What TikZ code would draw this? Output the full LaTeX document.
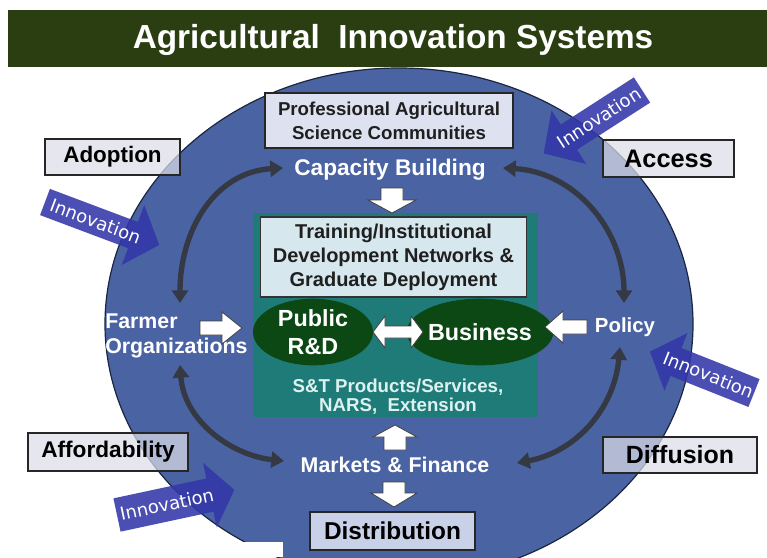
\documentclass[tikz,border=0pt]{standalone}
\usepackage{fontspec}
\setmainfont{Liberation Sans}
\newfontfamily\innovfont{DejaVu Sans}
\usetikzlibrary{arrows.meta,shapes.geometric}
\definecolor{titlebg}{HTML}{2B3E11}
\definecolor{ellblue}{HTML}{4A63A3}
\definecolor{ellline}{HTML}{1B2540}
\definecolor{tealbox}{HTML}{1F7B78}
\definecolor{rdgreen}{HTML}{0B4814}
\definecolor{innovblue}{HTML}{3336A8}
\definecolor{arcgray}{HTML}{343944}
\definecolor{lblfill}{HTML}{DCDDE8}
\definecolor{profill}{HTML}{DEE2F0}
\definecolor{trainfill}{HTML}{D6E7EE}
\definecolor{distfill}{HTML}{C9D1E8}
\definecolor{sttext}{HTML}{DDF2F0}
\newcommand{\blockarr}[8]{%
  \begin{scope}[shift={(#1,#2)},rotate=#3]
    \path[#8] (0,-#5) -- ({#4-#7},-#5) -- ({#4-#7},-#6) -- (#4,0) -- ({#4-#7},#6) -- ({#4-#7},#5) -- (0,#5) -- cycle;
  \end{scope}}
\begin{document}
\begin{tikzpicture}[x=0.75pt,y=-0.75pt,
  lbl/.style={draw=black!85, line width=0.9pt, fill=lblfill, fill opacity=0.72, text opacity=1, text=black, inner sep=0pt},
  wtxt/.style={text=white, inner sep=0pt, align=center},
  arcarrow/.style={draw=arcgray, line width=4pt, {Triangle[length=9.5pt,width=12pt]}-{Triangle[length=9.5pt,width=12pt]}},
  warrow/.style={fill=white, draw=black!75, line width=0.6pt},
  innovarrow/.style={fill=innovblue, fill opacity=0.88},
  innovtxt/.style={text=white, font=\innovfont\fontsize{13.5}{15}\selectfont, inner sep=0pt},
  rdell/.style={ellipse, fill=rdgreen, text=white, font=\bfseries\fontsize{17.5}{21.5}\selectfont, align=center, inner sep=0pt}
]
\useasboundingbox (0,0) rectangle (767,557);
\clip (0,0) rectangle (767,557);
\fill[white] (0,0) rectangle (767,557);
% title
\fill[titlebg] (8,10) rectangle (767,67);
\node[text=white, font=\bfseries\fontsize{25}{29}\selectfont, inner sep=0pt] (title) at (393,40) {Agricultural\ \ Innovation Systems};
% main ellipse
\draw[fill=ellblue, draw=ellline, line width=0.9pt] (399,324) ellipse [x radius=294, y radius=256];
\fill[white] (0,542) rectangle (283,557);
% innovation arrows
\begin{scope}[shift={(45,202)},rotate=-20.6]
  \path[innovarrow] (0,-14) -- (94,-14) -- (94,-32) -- (122,0) -- (94,32) -- (94,14) -- (0,14) -- cycle;
  \node[innovtxt, rotate=-20.6] (innov1) at (54,0) {Innovation};
\end{scope}
\begin{scope}[shift={(642,90)},rotate=212.8]
  \path[innovarrow] (0,-15) -- (87,-15) -- (87,-32) -- (117,0) -- (87,32) -- (87,15) -- (0,15) -- cycle;
  \node[innovtxt, rotate=32.8] (innov2) at (51,0) {Innovation};
\end{scope}
\begin{scope}[shift={(754,393)},rotate=158.3]
  \path[innovarrow] (0,-15) -- (84,-15) -- (84,-31) -- (112,0) -- (84,31) -- (84,15) -- (0,15) -- cycle;
  \node[innovtxt, rotate=-21.7] (innov3) at (49,0) {Innovation};
\end{scope}
\begin{scope}[shift={(117,515)},rotate=12.1]
  \path[innovarrow] (0,-17) -- (95,-17) -- (95,-33) -- (120,0) -- (95,33) -- (95,17) -- (0,17) -- cycle;
  \node[innovtxt, rotate=12.1] (innov4) at (51,0) {Innovation};
\end{scope}
% outer label boxes
\node[lbl, minimum width=101.25pt, minimum height=27pt, font=\bfseries\fontsize{16.8}{20}\selectfont] (adopt) at (112.5,157) {Adoption};
\node[lbl, minimum width=98.25pt, minimum height=27.75pt, font=\bfseries\fontsize{19}{22}\selectfont] (access) at (668.5,158.5) {Access};
\node[lbl, minimum width=120pt, minimum height=28.5pt, font=\bfseries\fontsize{17}{20}\selectfont] (afford) at (108,452) {Affordability};
\node[lbl, minimum width=115.5pt, minimum height=27pt, font=\bfseries\fontsize{18.7}{22}\selectfont] (diff) at (680,455) {Diffusion};
% professional box
\node[draw=black!85, line width=0.8pt, fill=profill, minimum width=186pt, minimum height=41.25pt, align=center, text=black!88, font=\bfseries\fontsize{14}{18}\selectfont, inner sep=0pt] (prof) at (389,120.5) {Professional Agricultural\\Science Communities};
\node[wtxt, font=\bfseries\fontsize{17}{20}\selectfont] (cap) at (390,170) {Capacity Building};
% teal box
\node[fill=tealbox, minimum width=213.75pt, minimum height=153pt, inner sep=0pt] (teal) at (395.5,315) {};
\node[draw=black!80, line width=0.8pt, fill=trainfill, minimum width=200pt, minimum height=60pt, align=center, text=black!88, font=\bfseries\fontsize{15}{18}\selectfont, inner sep=0pt] (train) at (393.5,257) {Training/Institutional\\Development Networks \&\\Graduate Deployment};
\node[rdell, minimum width=90pt, minimum height=50pt] (pub) at (313,332) {Public\\R\&D};
\node[rdell, minimum width=87pt, minimum height=50pt] (bus) at (480,332) {Business};
\node[text=sttext, font=\bfseries\fontsize{14}{14.5}\selectfont, align=center, inner sep=0pt] (st) at (398,397) {S\&T Products/Services,\\NARS,\ \ Extension};
% side texts
\node[wtxt, align=left, anchor=west, font=\bfseries\fontsize{16}{18.75}\selectfont] (farm) at (105,336) {Farmer\\Organizations};
\node[wtxt, font=\bfseries\fontsize{15.3}{18}\selectfont] (pol) at (625,327) {Policy};
\node[wtxt, font=\bfseries\fontsize{16}{19}\selectfont] (mkt) at (395,465) {Markets \& Finance};
\node[draw=black!85, line width=0.8pt, fill=distfill, minimum width=123.75pt, minimum height=28.5pt, text=black, font=\bfseries\fontsize{18.3}{22}\selectfont, inner sep=0pt] (dist) at (392.5,531) {Distribution};
% white block arrows
\blockarr{392}{188}{-90}{25}{11}{24}{13}{warrow}
\blockarr{200}{328}{0}{42}{7}{16}{20}{warrow}
\blockarr{587}{327}{180}{42}{7}{16}{18}{warrow}
\blockarr{395}{450}{90}{25}{11}{22}{12}{warrow}
\blockarr{394}{482}{-90}{25}{11}{23}{14}{warrow}
\path[warrow] (373,332) -- (385,316) -- (385,326) -- (411,326) -- (411,316) -- (423,332) -- (411,348) -- (411,338) -- (385,338) -- (385,348) -- cycle;
% curved arrows
\coordinate (tlA) at (283,168); \coordinate (tlB) at (180,303);
\coordinate (trA) at (503,168); \coordinate (trB) at (624,303);
\coordinate (blA) at (180,365); \coordinate (blB) at (284,461);
\coordinate (brA) at (620,347); \coordinate (brB) at (517,463);
\draw[arcarrow] (tlA) .. controls (215,172) and (180,230) .. (tlB);
\draw[arcarrow] (trA) .. controls (575,172) and (624,230) .. (trB);
\draw[arcarrow] (blA) .. controls (184,420) and (230,455) .. (blB);
\draw[arcarrow] (brA) .. controls (614,410) and (575,452) .. (brB);
\end{tikzpicture}
\end{document}
